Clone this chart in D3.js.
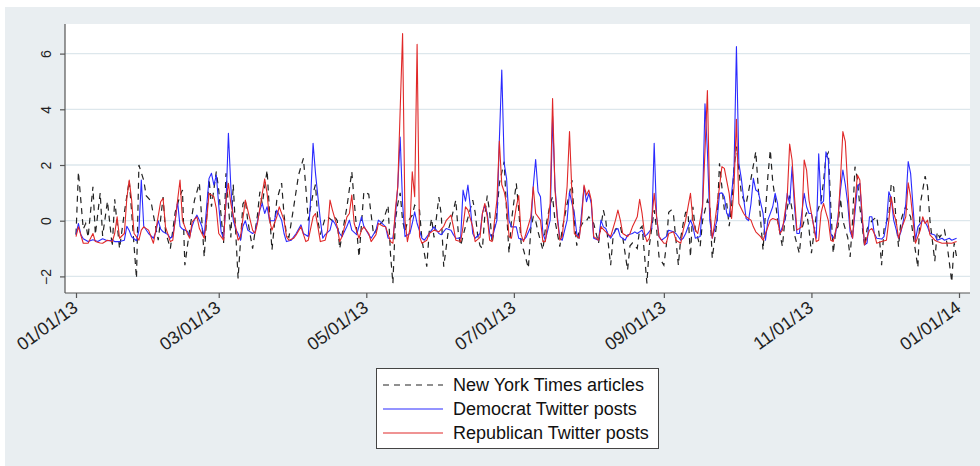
<!DOCTYPE html>
<html><head><meta charset="utf-8">
<script src="https://cdn.jsdelivr.net/npm/d3@7"></script>
<style>
body{margin:0;background:#fff;}
svg{display:block;font-family:"Liberation Sans",Arial,sans-serif;}
</style>
</head><body>
<svg id="chart" width="980" height="466"></svg>
<script>
// ---------- data (day offset from 2013-01-01, standardized value) ----------
const startDate = "2013-01-01";
const endDate = "2014-01-01";
const xTickLabels = ["01/01/13","03/01/13","05/01/13","07/01/13","09/01/13","11/01/13","01/01/14"];
const yTicks = [-2, 0, 2, 4, 6];
const seriesNames = ["New York Times articles", "Democrat Twitter posts", "Republican Twitter posts"];

const nytArticles = [[0,-0.5],[1,1.75],[3,-0.3],[4,-0.1],[5,-0.6],[7,1.22],[8,-0.5],[10,1.0],[11,-0.55],[13,0.7],[15,-0.93],[16,0.77],[18,-1.0],[20,0.3],[22,1.45],[23,0.3],[24,-0.9],[25,-2.07],[26,2.0],[28,1.45],[29,0.9],[31,0.7],[32,0.2],[34,-0.7],[36,0.85],[37,-0.4],[39,-1.0],[41,0.3],[43,0.9],[44,1.1],[45,-1.6],[47,-0.3],[49,0.75],[51,1.35],[53,-1.3],[55,1.5],[56,0.5],[58,1.76],[59,1.1],[61,-0.8],[62,1.7],[64,-0.6],[65,1.3],[67,-2.07],[69,0.6],[70,0.75],[71,0.0],[73,-1.0],[75,0.2],[76,1.04],[77,0.6],[79,1.82],[80,0.3],[81,-1.05],[83,0.74],[85,1.35],[86,0.2],[87,-0.5],[88,-0.6],[90,0.5],[92,1.64],[94,2.24],[95,1.2],[96,0.0],[98,0.98],[99,1.3],[100,0.0],[101,-0.5],[103,0.1],[104,0.14],[106,0.0],[107,0.14],[108,0.0],[109,-1.0],[111,0.0],[112,0.5],[114,1.76],[115,0.7],[116,-0.3],[117,-1.3],[119,1.04],[121,0.95],[123,-0.5],[125,-0.2],[127,0.0],[129,0.55],[130,-1.2],[131,-2.25],[132,0.0],[133,0.6],[134,1.0],[135,0.0],[136,-0.4],[137,-0.05],[139,0.2],[140,0.56],[142,0.38],[143,-0.7],[145,-1.65],[146,-0.4],[147,0.08],[148,-0.6],[150,0.85],[151,0.2],[152,-1.65],[154,-0.3],[155,0.0],[157,0.74],[158,-0.4],[159,-0.9],[161,-0.2],[162,0.1],[164,0.74],[165,0.3],[166,-0.5],[167,-0.9],[168,-1.0],[169,0.2],[170,0.9],[171,0.3],[172,-0.8],[174,0.3],[175,1.34],[177,2.12],[178,0.3],[179,-1.17],[180,0.0],[182,1.34],[183,0.4],[184,-0.8],[185,-1.05],[187,-1.7],[188,-0.3],[189,0.14],[190,0.0],[191,-0.4],[193,-1.05],[194,-0.3],[196,0.6],[197,0.86],[198,0.0],[200,-0.93],[201,-0.3],[203,0.6],[204,0.98],[205,1.46],[206,0.0],[207,-0.9],[208,-0.3],[210,0.0],[211,0.0],[212,0.14],[214,-0.1],[216,-0.81],[217,-0.2],[218,0.38],[219,0.0],[221,-1.6],[222,-0.6],[223,-0.3],[225,-0.2],[226,-0.6],[228,-1.77],[229,-0.9],[230,-0.8],[232,-1.0],[233,-0.3],[234,-0.2],[236,-2.25],[237,-0.9],[239,0.38],[240,-0.3],[241,-1.3],[243,-1.6],[244,-0.9],[245,0.3],[246,0.38],[247,0.2],[249,-1.6],[250,-0.6],[251,-0.1],[252,0.3],[253,0.3],[254,-1.3],[255,0.5],[256,-0.3],[258,-0.93],[259,0.0],[261,0.74],[262,0.5],[263,-1.35],[265,0.0],[266,2.06],[267,1.2],[268,0.4],[269,0.62],[270,-0.2],[271,0.5],[272,1.9],[273,2.66],[274,1.82],[275,1.0],[276,0.74],[277,0.6],[279,1.5],[281,2.48],[282,1.2],[283,0.0],[284,-1.06],[285,0.3],[286,1.6],[287,2.54],[288,1.4],[289,0.8],[290,0.02],[292,-0.93],[293,0.0],[295,0.9],[296,0.4],[297,-0.5],[299,-1.17],[300,-0.3],[302,0.3],[303,-0.3],[304,-1.17],[306,0.2],[308,0.74],[309,1.4],[310,2.3],[311,2.45],[312,0.5],[313,-1.17],[314,-0.4],[315,-0.2],[316,0.8],[317,0.0],[319,-0.6],[320,-1.3],[321,0.0],[322,1.94],[323,1.5],[324,0.5],[326,-0.93],[327,-0.3],[329,0.0],[331,0.14],[332,-0.5],[333,-1.6],[334,-0.3],[336,0.2],[337,1.34],[338,1.2],[339,0.0],[340,-0.93],[341,0.0],[342,0.3],[343,0.5],[345,0.14],[346,-0.5],[348,-1.68],[349,0.6],[351,1.6],[352,1.22],[353,0.0],[355,-1.45],[356,-0.4],[357,-0.6],[359,-0.34],[360,-0.8],[362,-2.2],[363,-0.8],[364,-1.3]];

const demPosts = [[0,-0.5],[1,-0.1],[2,-0.5],[3,-0.65],[5,-0.75],[7,-0.68],[9,-0.75],[11,-0.65],[13,-0.72],[15,-0.7],[16,-0.75],[18,-0.75],[20,-0.7],[21,-0.2],[22,-0.35],[23,-0.58],[25,-0.72],[26,-0.35],[27,1.46],[28,-0.2],[30,-0.46],[32,-0.63],[33,-0.4],[34,0.0],[35,-0.3],[36,-0.4],[38,-0.5],[39,-0.63],[40,-0.55],[41,0.0],[42,0.68],[43,-0.2],[44,-0.3],[46,-0.38],[47,-0.57],[48,-0.2],[49,0.05],[50,0.2],[51,0.02],[52,-0.2],[53,-0.57],[54,0.5],[55,1.52],[56,1.7],[57,1.28],[58,1.64],[59,0.56],[60,-0.4],[61,-0.63],[62,0.62],[63,3.14],[64,1.22],[65,0.02],[66,-0.3],[67,-0.46],[68,-0.7],[69,-0.2],[70,0.0],[71,-0.34],[73,-0.46],[74,-0.4],[76,0.38],[77,0.62],[78,0.26],[79,0.5],[80,0.0],[82,0.0],[83,0.38],[85,0.02],[86,-0.46],[87,-0.75],[89,-0.7],[91,-0.46],[93,-0.15],[94,-0.46],[96,-0.57],[97,0.8],[98,2.78],[99,1.7],[100,0.86],[101,0.02],[102,-0.63],[103,-0.5],[105,-0.34],[106,0.02],[107,-0.1],[109,-0.46],[110,-0.57],[112,-0.2],[113,0.02],[114,-0.34],[116,-0.5],[117,-0.2],[118,0.14],[119,-0.2],[121,-0.5],[122,-0.63],[124,-0.34],[125,0.02],[126,-0.05],[128,-0.22],[129,-0.63],[131,-0.63],[132,0.14],[133,1.22],[134,3.0],[135,0.62],[136,-0.57],[138,-0.46],[139,-0.1],[140,0.32],[141,-0.1],[143,-0.63],[144,-0.7],[146,-0.46],[147,-0.34],[148,-0.22],[150,-0.46],[151,-0.5],[153,-0.28],[155,-0.34],[156,-0.5],[157,-0.63],[159,-0.63],[160,1.1],[161,0.7],[162,1.28],[163,0.5],[164,-0.46],[165,-0.63],[167,-0.46],[168,0.26],[169,0.56],[170,0.26],[171,-0.46],[172,-0.63],[174,0.02],[175,2.9],[176,5.41],[177,2.06],[178,1.5],[179,0.0],[180,-0.22],[182,-0.22],[183,-0.63],[185,-0.7],[186,-0.6],[188,-0.22],[189,1.22],[190,2.2],[191,1.04],[192,0.86],[193,-0.46],[194,-0.7],[196,0.02],[197,3.75],[198,1.22],[199,0.14],[200,-0.63],[201,-0.7],[203,0.02],[204,1.04],[205,0.62],[206,0.26],[207,-0.46],[208,-0.63],[210,1.22],[211,0.68],[212,0.98],[213,0.62],[214,-0.63],[216,-0.7],[217,0.02],[218,-0.22],[219,-0.28],[220,-0.51],[221,-0.63],[223,-0.34],[224,-0.28],[225,-0.57],[227,-0.7],[228,-0.51],[230,-0.46],[231,-0.4],[232,-0.46],[234,-0.34],[235,-0.57],[236,-0.5],[238,-0.28],[239,2.78],[240,0.14],[241,-0.57],[242,-0.7],[244,-0.57],[245,-0.34],[247,-0.4],[248,-0.46],[250,-0.7],[251,-0.63],[252,-0.46],[254,0.02],[255,-0.2],[256,-0.63],[258,-0.57],[259,0.62],[260,4.2],[261,2.5],[262,0.02],[263,-0.63],[265,0.02],[266,0.98],[267,1.0],[268,0.86],[269,0.26],[270,0.14],[272,1.82],[273,6.25],[274,2.06],[275,1.52],[277,0.08],[278,0.0],[279,0.6],[280,1.52],[281,1.1],[282,1.04],[284,0.26],[285,-0.7],[286,0.02],[288,0.5],[289,0.98],[290,0.62],[291,-0.46],[293,0.02],[294,0.98],[295,0.6],[296,1.94],[297,0.5],[298,-0.46],[299,-0.46],[301,0.98],[302,0.5],[303,0.26],[304,0.26],[305,-0.2],[306,-0.63],[307,2.4],[308,0.6],[309,0.7],[310,2.47],[311,2.18],[312,-0.46],[313,-0.63],[314,-0.46],[315,0.14],[316,1.1],[317,1.82],[318,1.3],[319,0.62],[320,-0.4],[321,-0.63],[322,0.3],[323,1.22],[324,1.34],[325,0.02],[326,-0.87],[327,-0.8],[328,0.14],[329,0.14],[330,-0.46],[331,-0.63],[333,-0.66],[334,-0.57],[335,-0.1],[336,1.04],[337,0.8],[338,0.02],[340,-0.63],[341,-0.4],[342,0.0],[343,0.6],[344,2.12],[345,1.7],[346,0.5],[347,-0.7],[348,-0.22],[350,0.02],[351,-0.05],[352,-0.22],[353,-0.46],[355,-0.51],[356,-0.7],[358,-0.63],[359,-0.7],[361,-0.63],[362,-0.7],[364,-0.63]];

const repPosts = [[0,-0.57],[1,-0.22],[3,-0.81],[5,-0.81],[7,-0.46],[8,-0.75],[10,-0.8],[11,-0.81],[13,-0.7],[15,-0.75],[16,-0.46],[17,0.14],[18,-0.63],[20,-0.46],[21,0.8],[22,1.46],[23,0.74],[24,-0.46],[26,-0.7],[27,-0.34],[28,-0.22],[30,-0.34],[32,-0.81],[33,-0.34],[35,0.68],[36,0.8],[37,-0.22],[39,-0.75],[40,-0.7],[41,0.02],[43,1.46],[44,0.02],[46,-0.46],[47,-0.63],[48,-0.04],[50,0.14],[51,-0.28],[53,-0.63],[54,0.02],[55,0.98],[57,0.86],[58,0.44],[59,-0.46],[61,-0.7],[62,0.74],[63,1.34],[64,0.62],[66,-0.22],[67,-0.7],[68,-0.57],[70,0.74],[71,0.38],[73,-0.34],[74,-0.46],[75,-0.1],[77,0.98],[78,1.5],[79,0.98],[80,0.02],[81,-0.34],[83,0.14],[84,0.5],[86,0.02],[87,-0.57],[88,-0.7],[90,-0.63],[91,-0.51],[93,-0.22],[95,-0.75],[96,-0.7],[98,0.14],[99,0.26],[100,-0.22],[101,-0.75],[103,-0.7],[104,-0.34],[105,0.74],[106,0.38],[108,-0.22],[109,-0.75],[110,-0.57],[112,0.14],[113,0.26],[114,0.92],[115,-0.1],[117,-0.63],[118,-0.34],[119,-0.22],[121,-0.46],[122,-0.75],[124,-0.5],[125,-0.1],[127,-0.2],[128,-0.22],[130,-0.75],[131,-0.81],[132,0.38],[133,1.22],[135,6.72],[136,0.0],[137,-0.75],[138,-0.3],[139,1.76],[140,0.86],[141,6.33],[142,-0.57],[143,-0.81],[145,-0.7],[146,-0.46],[148,-0.34],[150,-0.4],[152,-0.2],[153,0.0],[155,0.2],[156,-0.22],[157,-0.7],[159,-0.75],[160,-0.2],[161,0.5],[162,0.38],[164,-0.22],[165,-0.75],[167,-0.6],[168,0.26],[169,0.62],[170,0.14],[171,-0.7],[172,-0.75],[174,0.74],[175,2.86],[176,1.3],[177,1.04],[178,0.6],[179,-0.57],[180,-0.63],[182,0.5],[183,0.9],[184,-0.5],[185,-0.75],[186,-0.46],[188,0.14],[189,1.22],[190,0.26],[192,0.02],[193,-0.75],[194,-0.75],[196,0.62],[197,4.39],[198,1.1],[199,0.02],[200,-0.7],[201,-0.57],[203,1.22],[204,3.2],[205,0.98],[206,-0.46],[208,-0.63],[209,0.02],[210,1.28],[211,0.92],[212,1.1],[213,0.74],[214,-0.57],[216,-0.7],[217,-0.22],[219,-0.4],[221,-0.57],[223,0.02],[224,0.38],[225,0.02],[226,-0.46],[228,-0.57],[229,-0.46],[230,-0.22],[232,0.14],[233,0.77],[234,0.26],[235,-0.46],[236,-0.75],[237,-0.63],[238,0.02],[239,0.98],[240,0.14],[241,-0.57],[243,-0.81],[244,-0.81],[245,-0.46],[247,-0.4],[248,-0.7],[250,-0.81],[251,-0.34],[252,0.02],[254,0.98],[255,0.02],[256,-0.34],[257,-0.46],[259,0.5],[260,2.5],[261,4.67],[262,0.5],[263,-0.63],[264,-0.1],[266,1.22],[267,1.94],[268,1.88],[270,0.98],[271,0.08],[272,1.22],[273,3.64],[274,0.62],[276,0.26],[277,0.14],[279,0.02],[280,-0.22],[281,-0.4],[283,-0.57],[284,-0.7],[286,-0.22],[287,0.02],[288,0.08],[290,0.02],[291,-0.46],[292,-0.34],[294,0.86],[295,2.75],[296,2.18],[297,0.86],[298,-0.34],[300,-0.22],[301,2.18],[302,1.82],[303,0.74],[304,0.26],[306,-0.75],[307,-0.7],[308,0.3],[309,0.62],[310,0.3],[311,0.0],[312,-0.7],[313,-0.75],[315,0.02],[316,1.46],[317,3.2],[318,2.84],[319,1.22],[320,-0.22],[321,-0.63],[322,0.62],[323,1.64],[324,1.46],[325,0.14],[326,-0.87],[328,-0.34],[329,-0.28],[330,-0.46],[331,-0.81],[333,-0.75],[335,-0.7],[336,0.02],[337,0.86],[338,0.26],[339,0.0],[340,-0.63],[341,-0.34],[343,0.14],[344,1.36],[345,0.86],[346,0.02],[347,-0.81],[349,-0.34],[350,0.14],[351,-0.1],[352,0.02],[353,-0.51],[355,-0.7],[356,-0.75],[358,-0.81],[360,-0.8],[362,-0.81],[364,-0.75]];

// ---------- layout ----------
const svg = d3.select("#chart");
const W = 980, H = 466;
const plot = {left: 65, right: 970, top: 24, bottom: 293};
const colors = {nyt: "#222222", dem: "#2a2aff", rep: "#e02828"};
const nytDash = "6,5";

// outer graph region
svg.append("rect").attr("x", 0).attr("y", 0).attr("width", W).attr("height", H).attr("fill", "#ffffff");
svg.append("rect").attr("x", 5).attr("y", 7).attr("width", W - 5).attr("height", H - 7).attr("fill", "#e9eef1");
svg.append("rect").attr("x", plot.left).attr("y", plot.top)
  .attr("width", plot.right - plot.left).attr("height", plot.bottom - plot.top).attr("fill", "#ffffff");

const parseISO = d3.utcParse("%Y-%m-%d");
const t0 = parseISO(startDate), t1 = parseISO(endDate);
const x = d3.scaleUtc().domain([t0, t1]).range([76, 959]);
const y = d3.scaleLinear().domain([-2.596, 7.063]).range([plot.bottom, plot.top]);
const dayToDate = d => d3.utcDay.offset(t0, d);

// gridlines
svg.append("g").selectAll("line").data(yTicks).join("line")
  .attr("x1", plot.left).attr("x2", plot.right)
  .attr("y1", d => y(d)).attr("y2", d => y(d))
  .attr("stroke", "#dde7ec").attr("stroke-width", 1.3);

// series
const line = d3.line().x(d => x(dayToDate(d[0]))).y(d => y(d[1]));
svg.append("path").datum(nytArticles).attr("d", line).attr("fill", "none")
  .attr("stroke", colors.nyt).attr("stroke-width", 1.2).attr("stroke-dasharray", nytDash);
svg.append("path").datum(demPosts).attr("d", line).attr("fill", "none")
  .attr("stroke", colors.dem).attr("stroke-width", 1.1).attr("stroke-linejoin", "round");
svg.append("path").datum(repPosts).attr("d", line).attr("fill", "none")
  .attr("stroke", colors.rep).attr("stroke-width", 1.1).attr("stroke-linejoin", "round");

// axes
const parseTick = d3.utcParse("%m/%d/%y");
const xAxis = d3.axisBottom(x).tickValues(xTickLabels.map(parseTick))
  .tickFormat(d3.utcFormat("%m/%d/%y")).tickSize(5).tickSizeOuter(0);
const gx = svg.append("g").attr("transform", `translate(0,${plot.bottom})`).call(xAxis);
gx.select(".domain").attr("d", `M${plot.left},0H${plot.right}`).attr("stroke", "#555").attr("stroke-width", 1.2);
gx.selectAll(".tick line").attr("stroke", "#555").attr("stroke-width", 1.2);
gx.selectAll(".tick text")
  .attr("font-size", 18).attr("fill", "#222")
  .attr("text-anchor", "end").attr("dy", "0.35em")
  .attr("transform", "translate(-1,12) rotate(-36)")
  .attr("y", 0).attr("x", 0);

const yAxis = d3.axisLeft(y).tickValues(yTicks).tickSize(5).tickSizeOuter(0);
const gy = svg.append("g").attr("transform", `translate(${plot.left},0)`).call(yAxis);
gy.select(".domain").attr("d", `M0,${plot.top}V${plot.bottom}`).attr("stroke", "#555").attr("stroke-width", 1.2);
gy.selectAll(".tick line").attr("stroke", "#555").attr("stroke-width", 1.2);
gy.selectAll(".tick text")
  .attr("font-size", 14).attr("fill", "#222")
  .attr("text-anchor", "middle").attr("x", 0).attr("y", 0).attr("dy", 0)
  .attr("transform", "translate(-14,0) rotate(-90)");

// legend
const lg = svg.append("g");
lg.append("rect").attr("x", 376.5).attr("y", 368.5).attr("width", 282).attr("height", 80)
  .attr("fill", "#ffffff").attr("stroke", "#444").attr("stroke-width", 1);
const legendItems = [
  {name: seriesNames[0], color: colors.nyt, dash: nytDash},
  {name: seriesNames[1], color: colors.dem, dash: null},
  {name: seriesNames[2], color: colors.rep, dash: null}
];
legendItems.forEach((it, i) => {
  const yy = 385 + i * 24;
  lg.append("line").attr("x1", 383).attr("x2", 443).attr("y1", yy).attr("y2", yy)
    .attr("stroke", it.color).attr("stroke-width", 1.1).attr("stroke-dasharray", it.dash);
  lg.append("text").attr("x", 453).attr("y", yy).attr("dy", "0.35em")
    .attr("font-size", 18).attr("fill", "#111").text(it.name);
});
</script>
</body></html>
